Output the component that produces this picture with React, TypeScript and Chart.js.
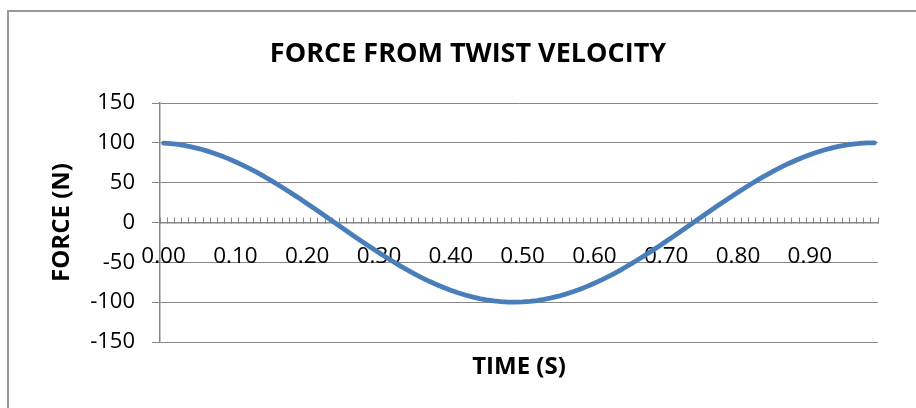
import { useEffect, useRef } from "react";
import { Chart, registerables } from "chart.js";

Chart.register(...registerables);

// Sample times (s), one category per sample
const TIME = [
  0.0, 0.01, 0.02, 0.03, 0.04, 0.05, 0.06, 0.07, 0.08, 0.09,
  0.1, 0.11, 0.12, 0.13, 0.14, 0.15, 0.16, 0.17, 0.18, 0.19,
  0.2, 0.21, 0.22, 0.23, 0.24, 0.25, 0.26, 0.27, 0.28, 0.29,
  0.3, 0.31, 0.32, 0.33, 0.34, 0.35, 0.36, 0.37, 0.38, 0.39,
  0.4, 0.41, 0.42, 0.43, 0.44, 0.45, 0.46, 0.47, 0.48, 0.49,
  0.5, 0.51, 0.52, 0.53, 0.54, 0.55, 0.56, 0.57, 0.58, 0.59,
  0.6, 0.61, 0.62, 0.63, 0.64, 0.65, 0.66, 0.67, 0.68, 0.69,
  0.7, 0.71, 0.72, 0.73, 0.74, 0.75, 0.76, 0.77, 0.78, 0.79,
  0.8, 0.81, 0.82, 0.83, 0.84, 0.85, 0.86, 0.87, 0.88, 0.89,
  0.9, 0.91, 0.92, 0.93, 0.94, 0.95, 0.96, 0.97, 0.98, 0.99,
];

// Force (N) at each sample time
const FORCE = [
  99.7, 99.0, 98.0, 96.5, 94.7, 92.5, 89.9, 87.0, 83.8, 80.2,
  76.2, 72.0, 67.5, 62.8, 57.8, 52.5, 47.1, 41.4, 35.6, 29.7,
  23.6, 17.5, 11.3, 5.0, -1.3, -7.5, -13.8, -20.0, -26.1, -32.1,
  -38.0, -43.7, -49.3, -54.7, -59.8, -64.7, -69.4, -73.8, -77.8, -81.6,
  -85.1, -88.2, -91.0, -93.4, -95.5, -97.2, -98.5, -99.4, -99.9, -100.0,
  -99.7, -99.0, -98.0, -96.5, -94.7, -92.5, -89.9, -87.0, -83.8, -80.2,
  -76.2, -72.0, -67.5, -62.8, -57.8, -52.5, -47.1, -41.4, -35.6, -29.7,
  -23.6, -17.5, -11.3, -5.0, 1.3, 7.5, 13.8, 20.0, 26.1, 32.1,
  38.0, 43.7, 49.3, 54.7, 59.8, 64.7, 69.4, 73.8, 77.8, 81.6,
  85.1, 88.2, 91.0, 93.4, 95.5, 97.2, 98.5, 99.4, 99.9, 100.0,
];

// Category labels that are printed along the time axis
const TIME_TICK_LABELS = ["0.00", "0.10", "0.20", "0.30", "0.40", "0.50", "0.60", "0.70", "0.80", "0.90"];

// Force axis range and step
const FORCE_MIN = -150;
const FORCE_MAX = 150;
const FORCE_STEP = 50;

const AXIS_GREY = "#868686";
const LINE_BLUE = "#4A7EBB";
const FONT = "'Open Sans', sans-serif";

const CANVAS_W = 936;
const CANVAS_H = 408;

export default function App() {
  const canvasRef = useRef<HTMLCanvasElement>(null);

  useEffect(() => {
    const canvas = canvasRef.current;
    if (!canvas) return;
    const chart = new Chart(canvas, {
      type: "line",
      data: {
        labels: TIME.map((t) => t.toFixed(2)),
        datasets: [
          {
            data: FORCE,
            borderColor: LINE_BLUE,
            borderWidth: 4.8,
            pointRadius: 0,
            pointHoverRadius: 0,
            tension: 0,
            fill: false,
            borderCapStyle: "round",
            borderJoinStyle: "round",
          },
        ],
      },
      options: {
        animation: false,
        responsive: false,
        devicePixelRatio: 1,
        events: [],
        // equal side padding keeps the chart title centred on the frame
        layout: { padding: { left: 58, right: 58, top: 0, bottom: 0 } },
        plugins: {
          legend: { display: false },
          tooltip: { enabled: false },
          title: {
            display: true,
            text: "FORCE FROM TWIST VELOCITY",
            color: "#000",
            font: { family: FONT, size: 27, weight: "bold", lineHeight: 1.2 },
            padding: { top: 38, bottom: 32.6 },
          },
          subtitle: {
            display: true,
            position: "bottom",
            fullSize: false,
            text: "TIME (S)",
            color: "#000",
            font: { family: FONT, size: 24, weight: "bold", lineHeight: 1.2 },
            padding: { top: 10.6, bottom: 26.6 },
          },
        },
        scales: {
          x: {
            type: "category",
            position: { y: 0 },
            offset: true,
            grid: {
              offset: true,
              drawOnChartArea: false,
              drawTicks: true,
              tickLength: -6,
              color: AXIS_GREY,
              lineWidth: 1,
            },
            border: { display: true, color: AXIS_GREY, width: 1.5 },
            ticks: {
              autoSkip: false,
              maxRotation: 0,
              minRotation: 0,
              padding: 27,
              color: "#000",
              font: { family: FONT, size: 22.5 },
              callback: function (value: any) {
                const label = (this as any).getLabelForValue(value);
                return TIME_TICK_LABELS.includes(label) ? label : "";
              },
            },
          },
          y: {
            min: FORCE_MIN,
            max: FORCE_MAX,
            afterFit: (scale: any) => {
              scale.width = 102;
            },
            ticks: {
              stepSize: FORCE_STEP,
              padding: 17,
              color: "#000",
              font: { family: FONT, size: 22 },
            },
            grid: {
              color: AXIS_GREY,
              lineWidth: 1,
              drawTicks: true,
              tickLength: 8,
            },
            border: { display: true, color: AXIS_GREY, width: 1.5 },
            title: {
              display: true,
              text: "FORCE (N)",
              color: "#000",
              font: { family: FONT, size: 24, weight: "bold", lineHeight: 1.2 },
              padding: { top: -10.4, bottom: 0 },
            },
          },
        },
      },
    } as any);
    return () => chart.destroy();
  }, []);

  return (
    <div
      style={{
        position: "fixed",
        left: 0,
        top: 0,
        width: 916,
        height: 408,
        overflow: "hidden",
        background: "#fff",
      }}
    >
      <div
        style={{
          position: "absolute",
          left: 7,
          top: 10,
          width: 2000,
          height: 2000,
          borderLeft: "2px solid #999",
          borderTop: "2px solid #999",
        }}
      />
      <canvas
        ref={canvasRef}
        width={CANVAS_W}
        height={CANVAS_H}
        style={{ position: "absolute", left: 0, top: 0, display: "block" }}
      />
    </div>
  );
}
